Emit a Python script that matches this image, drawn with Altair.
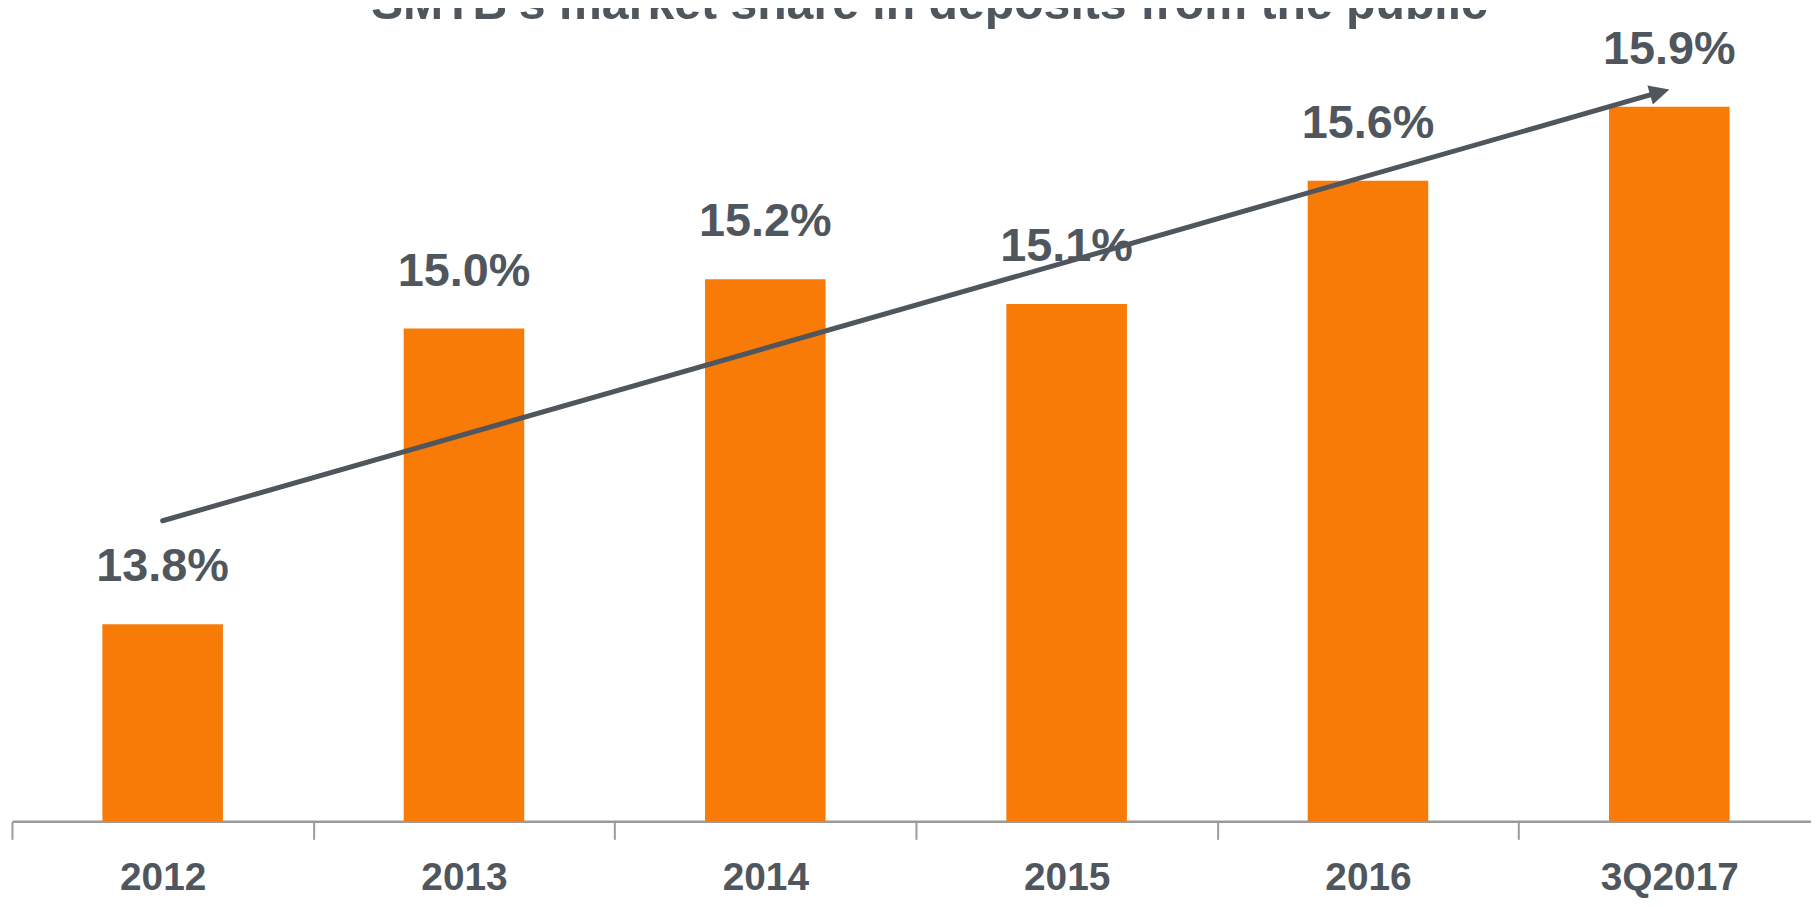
import altair as alt
import pandas as pd

# ---- data ----
categories = ["2012", "2013", "2014", "2015", "2016", "3Q2017"]
shares = [13.8, 15.0, 15.2, 15.1, 15.6, 15.9]

# trend arrow (annotation) start / end, in category + share units
arrow_start_cat = ["2012"]
arrow_start_val = [14.22]
arrow_end_cat = ["3Q2017"]
arrow_end_val = [15.97]

title_text = "SMTB's market share in deposits from the public"

# ---- styles ----
ORANGE = "#F87A07"
GREY_TEXT = "#4F565D"
AXIS_GREY = "#9B9B9B"
FONT = "Liberation Sans"

bars_df = pd.DataFrame({"category": categories, "share": shares})
arrow_df = pd.DataFrame({
    "start_cat": arrow_start_cat,
    "start_val": arrow_start_val,
    "end_cat": arrow_end_cat,
    "end_val": arrow_end_val,
})

x_scale = alt.Scale(domain=categories, range=[0, 1816], paddingInner=0, paddingOuter=0)
y_scale = alt.Scale(domain=[13, 16.2], nice=False, zero=False)

x_enc = alt.X(
    "category:N",
    scale=x_scale,
    sort=categories,
    axis=alt.Axis(
        title=None,
        labelAngle=0,
        labelFont=FONT,
        labelFontSize=39,
        labelFontWeight="bold",
        labelColor=GREY_TEXT,
        labelBaseline="alphabetic",
        labelPadding=50,
        tickBand="extent",
        tickSize=18,
        tickColor=AXIS_GREY,
        tickWidth=2,
        domainColor=AXIS_GREY,
        domainWidth=2.5,
        grid=False,
    ),
)

bars = alt.Chart(bars_df).mark_bar(
    color=ORANGE, width=alt.RelativeBandSize(0.4), clip=True
).encode(
    x=x_enc,
    y=alt.Y("share:Q", scale=y_scale, axis=None),
)

labels = alt.Chart(bars_df).transform_calculate(
    label="format(datum.share, '.1f') + '%'"
).mark_text(
    font=FONT, fontSize=47, fontWeight="bold", color=GREY_TEXT,
    baseline="alphabetic", align="center", dy=-43,
).encode(
    x=alt.X("category:N", scale=x_scale, sort=categories),
    y=alt.Y("share:Q", scale=y_scale),
    text="label:N",
)

arrow_line = alt.Chart(arrow_df).mark_rule(
    color=GREY_TEXT, strokeWidth=5, strokeCap="round",
    x2Offset=-9.6, y2Offset=2.7,
).encode(
    x=alt.X("start_cat:N", scale=x_scale, sort=categories),
    x2="end_cat:N",
    y=alt.Y("start_val:Q", scale=y_scale),
    y2="end_val:Q",
)

arrow_head = alt.Chart(arrow_df).mark_point(
    shape="M0,0 L1,2 L-1,2 Z", filled=True, size=400, angle=74.1,
    color=GREY_TEXT, opacity=1, strokeWidth=0,
).encode(
    x=alt.X("end_cat:N", scale=x_scale, sort=categories),
    y=alt.Y("end_val:Q", scale=y_scale),
)

chart = alt.layer(bars, labels, arrow_line, arrow_head).properties(
    width=1807,
    height=792,
    background="white",
    title=alt.TitleParams(
        text=title_text, font=FONT, fontSize=48.4, fontWeight="bold",
        color=GREY_TEXT, baseline="alphabetic", offset=4, dy=45, dx=18,
        anchor="middle",
    ),
    autosize=alt.AutoSizeParams(type="none"),
    padding={"left": 4, "top": 23, "right": 0, "bottom": 76},
).configure_view(stroke=None)

chart.save("out.html", embed_options={"renderer": "svg", "actions": False})
